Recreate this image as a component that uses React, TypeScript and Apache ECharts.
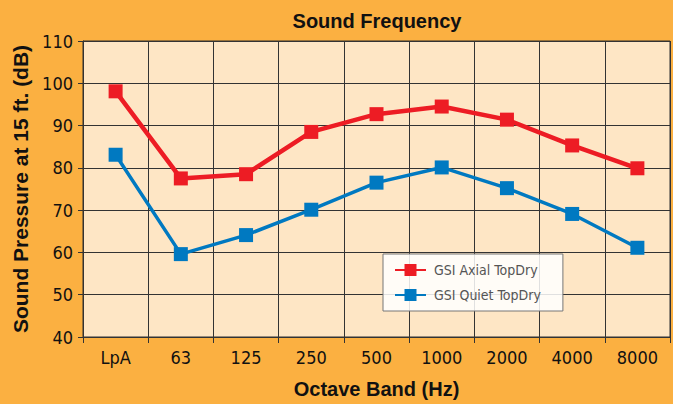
import React, { useEffect, useRef } from "react";
import * as echarts from "echarts";

const categories = ["LpA", "63", "125", "250", "500", "1000", "2000", "4000", "8000"];
const axialValues = [98.1, 77.5, 78.5, 88.5, 92.7, 94.5, 91.4, 85.3, 79.9];
const quietValues = [83.1, 59.6, 64.1, 70.1, 76.5, 80.1, 75.2, 69.1, 61.1];
const seriesNames = ["GSI Axial TopDry", "GSI Quiet TopDry"];
const titleText = "Sound Frequency";
const xAxisName = "Octave Band (Hz)";
const yAxisName = "Sound Pressure at 15 ft. (dB)";

const NARROW = "'DejaVu Sans Condensed', 'Liberation Sans Narrow', sans-serif";
const BOLD = "'Liberation Sans', Arial, sans-serif";

export default function App() {
  const ref = useRef<HTMLDivElement>(null);
  useEffect(() => {
    if (!ref.current) return;
    const chart = echarts.init(ref.current, undefined, { renderer: "svg" });
    chart.setOption({
      animation: false,
      backgroundColor: "#FBB041",
      title: {
        text: titleText,
        left: 377,
        textAlign: "center",
        top: 11,
        textStyle: { fontFamily: BOLD, fontWeight: "bold", fontSize: 20, color: "#111" },
        padding: 0,
      },
      grid: {
        left: 83,
        top: 41,
        right: 3,
        bottom: 64,
        show: true,
        backgroundColor: "#FEE6C5",
        borderColor: "#333",
        borderWidth: 1,
      },
      legend: {
        data: seriesNames,
        orient: "vertical",
        left: 383,
        top: 254,
        itemWidth: 31,
        itemHeight: 15,
        itemGap: 11,
        padding: [9, 22, 9, 11],
        backgroundColor: "rgba(255,255,255,0.85)",
        borderColor: "#777",
        borderWidth: 1,
        borderRadius: 0,
        textStyle: { fontFamily: NARROW, fontSize: 14, color: "#555", padding: [0, 0, 0, 3] },
      },
      xAxis: {
        type: "category",
        data: categories,
        boundaryGap: true,
        name: xAxisName,
        nameLocation: "middle",
        nameGap: 42,
        nameTextStyle: { fontFamily: BOLD, fontWeight: "bold", fontSize: 20, color: "#111" },
        axisLine: { show: true, lineStyle: { color: "#333", width: 1 } },
        axisTick: { show: true, length: 6, lineStyle: { color: "#333" } },
        axisLabel: { fontFamily: NARROW, fontSize: 18, color: "#111", margin: 11 },
        splitLine: { show: true, lineStyle: { color: "#333", width: 1 } },
      },
      yAxis: {
        type: "value",
        min: 40,
        max: 110,
        interval: 10,
        name: yAxisName,
        nameLocation: "middle",
        nameGap: 48,
        nameTextStyle: { fontFamily: BOLD, fontWeight: "bold", fontSize: 21, color: "#111" },
        axisLine: { show: true, lineStyle: { color: "#333", width: 1 } },
        axisTick: { show: true, length: 5, lineStyle: { color: "#333" } },
        axisLabel: { fontFamily: NARROW, fontSize: 18, color: "#111", margin: 10 },
        splitLine: { show: true, lineStyle: { color: "#333", width: 1 } },
      },
      series: [
        {
          name: seriesNames[0],
          type: "line",
          data: axialValues,
          symbol: "rect",
          symbolSize: 14,
          color: "#ED1C24",
          lineStyle: { color: "#ED1C24", width: 4.5 },
          itemStyle: { color: "#ED1C24" },
        },
        {
          name: seriesNames[1],
          type: "line",
          data: quietValues,
          symbol: "rect",
          symbolSize: 14,
          color: "#0079C1",
          lineStyle: { color: "#0079C1", width: 3.5 },
          itemStyle: { color: "#0079C1" },
        },
      ],
    });
    return () => chart.dispose();
  }, []);
  return <div ref={ref} style={{ width: 673, height: 404, position: "absolute", left: 0, top: 0 }} />;
}
